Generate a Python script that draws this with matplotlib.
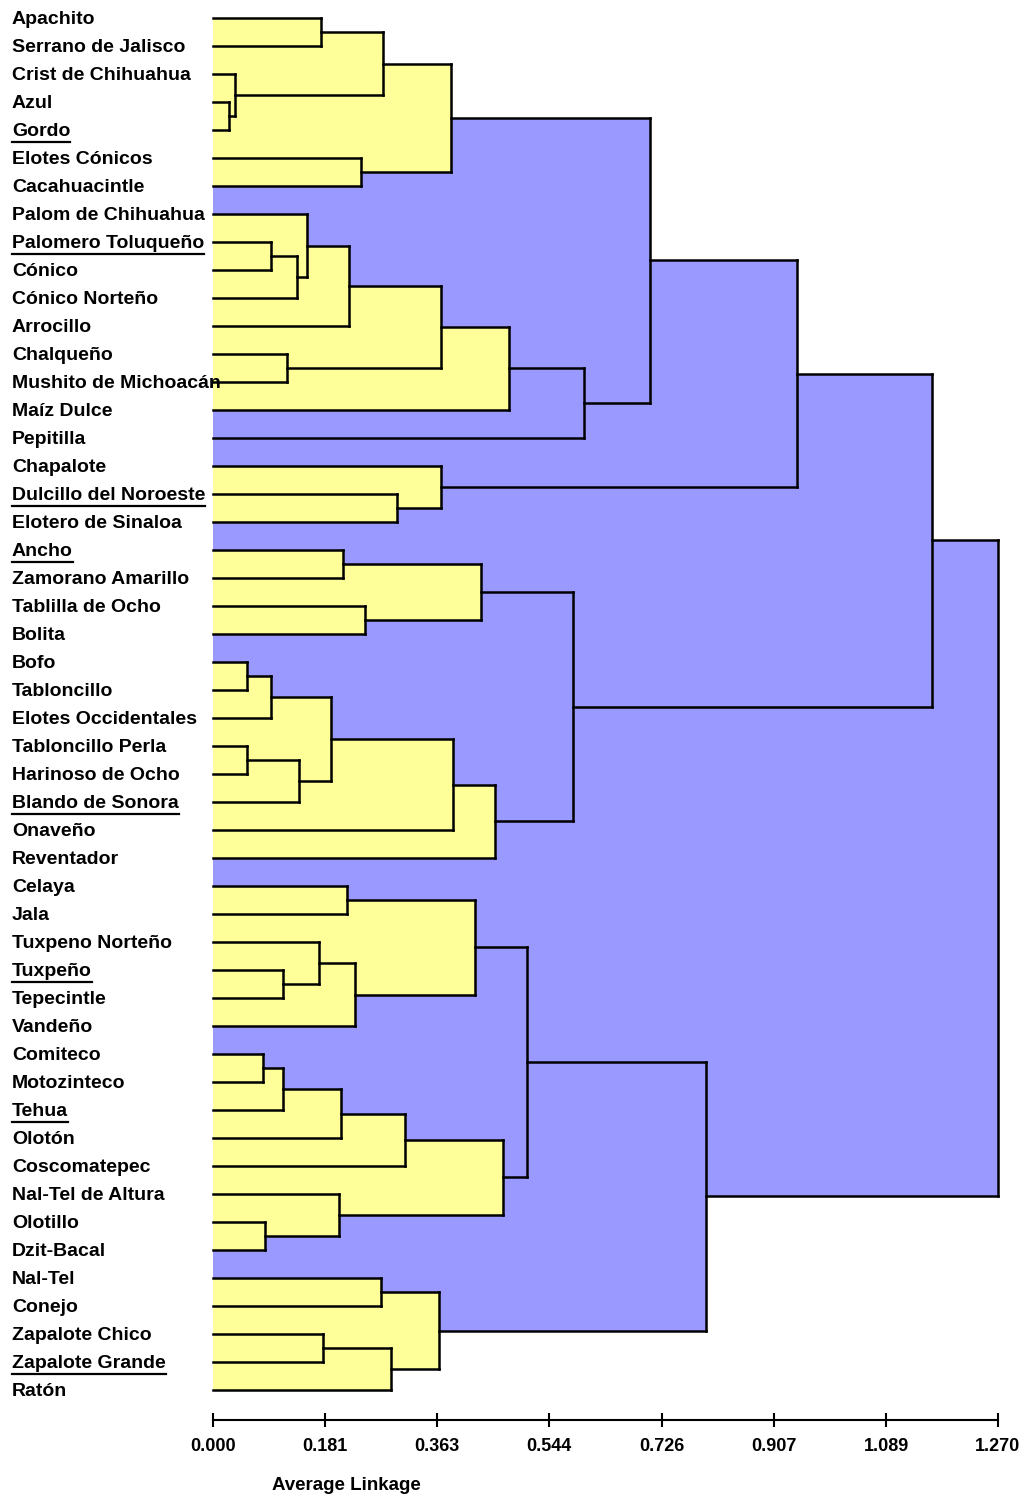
import matplotlib.pyplot as plt
from matplotlib.patches import Rectangle
from matplotlib.transforms import blended_transform_factory

plt.rcParams['font.family'] = ['Liberation Sans', 'DejaVu Sans']

# Leaf labels (top to bottom)
razas = [
    "Apachito", "Serrano de Jalisco", "Crist de Chihuahua", "Azul", "Gordo",
    "Elotes Cónicos", "Cacahuacintle", "Palom de Chihuahua", "Palomero Toluqueño",
    "Cónico", "Cónico Norteño", "Arrocillo", "Chalqueño", "Mushito de Michoacán",
    "Maíz Dulce", "Pepitilla", "Chapalote", "Dulcillo del Noroeste",
    "Elotero de Sinaloa", "Ancho", "Zamorano Amarillo", "Tablilla de Ocho",
    "Bolita", "Bofo", "Tabloncillo", "Elotes Occidentales", "Tabloncillo Perla",
    "Harinoso de Ocho", "Blando de Sonora", "Onaveño", "Reventador", "Celaya",
    "Jala", "Tuxpeno Norteño", "Tuxpeño", "Tepecintle", "Vandeño", "Comiteco",
    "Motozinteco", "Tehua", "Olotón", "Coscomatepec", "Nal-Tel de Altura",
    "Olotillo", "Dzit-Bacal", "Nal-Tel", "Conejo", "Zapalote Chico",
    "Zapalote Grande", "Ratón",
]
subrayadas = ["Gordo", "Palomero Toluqueño", "Dulcillo del Noroeste", "Ancho",
              "Blando de Sonora", "Tuxpeño", "Tehua", "Zapalote Grande"]

# Merges (scipy style: ids < 50 are leaves, 50+k is the k-th merge)
merge_a = [3, 2, 0, 52, 5, 53, 8, 56, 7, 58, 12, 59, 61, 62, 55, 17, 16, 64,
           19, 21, 68, 23, 71, 26, 73, 72, 75, 76, 70, 67, 31, 34, 33, 82, 80,
           37, 85, 86, 87, 43, 42, 88, 84, 45, 47, 94, 93, 92, 79]
merge_b = [4, 50, 1, 51, 6, 54, 9, 10, 57, 11, 13, 60, 14, 15, 63, 18, 65, 66,
           20, 22, 69, 24, 25, 27, 28, 74, 29, 30, 77, 78, 32, 35, 81, 36, 83,
           38, 39, 40, 41, 44, 89, 90, 91, 46, 48, 49, 95, 96, 97]
merge_h = [0.026, 0.036, 0.175, 0.275, 0.239, 0.385, 0.094, 0.136, 0.152,
           0.220, 0.120, 0.369, 0.479, 0.600, 0.707, 0.298, 0.369, 0.945,
           0.210, 0.246, 0.434, 0.055, 0.094, 0.055, 0.139, 0.191, 0.388,
           0.456, 0.582, 1.163, 0.217, 0.113, 0.171, 0.230, 0.424, 0.081,
           0.113, 0.207, 0.311, 0.084, 0.204, 0.469, 0.508, 0.272, 0.178,
           0.288, 0.366, 0.798, 1.270]

ticks = [0.000, 0.181, 0.363, 0.544, 0.726, 0.907, 1.089, 1.270]
umbral = 0.5

n = len(razas)
pos = {i: float(i) for i in range(n)}
altura = {i: 0.0 for i in range(n)}
for k, (a, b, h) in enumerate(zip(merge_a, merge_b, merge_h)):
    pos[n + k] = (pos[a] + pos[b]) / 2
    altura[n + k] = h

fig = plt.figure(figsize=(10.34, 15.01), dpi=100)
ax = fig.add_axes([213 / 1034, 81 / 1501, 785 / 1034, 1416 / 1501])
ax.set_xlim(0, 1.27)
ax.set_ylim(50.07, -0.5)

# fills: biggest first so smaller clusters sit on top
orden = sorted(range(len(merge_h)), key=lambda k: -merge_h[k])
for k in orden:
    a, b, h = merge_a[k], merge_b[k], merge_h[k]
    color = '#FFFF99' if h < umbral else '#9999FF'
    ax.add_patch(Rectangle((0, pos[a]), h, pos[b] - pos[a], facecolor=color,
                           edgecolor='none', zorder=1, clip_on=False))

# lines
for a, b, h in zip(merge_a, merge_b, merge_h):
    for c in (a, b):
        ax.plot([altura[c], h], [pos[c], pos[c]], color='black', lw=1.8,
                solid_capstyle='projecting', zorder=3, clip_on=False)
    ax.plot([h, h], [pos[a], pos[b]], color='black', lw=1.8,
            solid_capstyle='projecting', zorder=3, clip_on=False)

# labels
trans = blended_transform_factory(fig.transFigure, ax.transData)
textos = []
for i, nombre in enumerate(razas):
    t = ax.text(12 / 1034, i + 0.07, nombre, transform=trans, ha='left',
                va='center', fontsize=14, fontweight='bold', zorder=5,
                clip_on=False)
    textos.append(t)

for side in ['left', 'top', 'right']:
    ax.spines[side].set_visible(False)
ax.spines['bottom'].set_linewidth(1.5)
ax.set_yticks([])
ax.set_xticks(ticks)
ax.set_xticklabels([f"{v:.3f}" for v in ticks], fontsize=13, fontweight='bold')
ax.tick_params(axis='x', direction='inout', length=10, width=1.5, pad=8)

fig.text(272 / 1034, 1 - 1486 / 1501, "Average Linkage", fontsize=13.5,
         fontweight='bold', ha='left', va='center')

# underline selected names
fig.canvas.draw()
r = fig.canvas.get_renderer()
inv = fig.transFigure.inverted()
for i, t in enumerate(textos):
    if t.get_text() in subrayadas:
        bb = t.get_window_extent(r)
        x1 = inv.transform((bb.x1, 0))[0]
        ax.plot([12 / 1034, x1], [i + 0.42, i + 0.42], transform=trans,
                color='black', lw=1.6, zorder=5, clip_on=False)

plt.savefig("out.png", dpi=100)
